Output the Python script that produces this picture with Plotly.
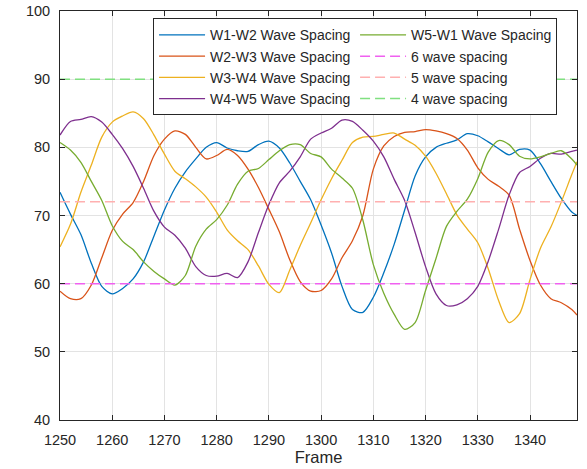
import plotly.graph_objects as go

frames = list(range(1250, 1349, 2)) + [1349]

w1_w2 = [73.4, 70.2, 67.2, 63.0, 59.6, 58.5, 59.3, 60.7, 63.2, 67.0,
         70.8, 74.0, 76.4, 78.3, 80.0, 80.7, 79.9, 79.5, 79.4, 80.4,
         80.9, 79.9, 77.7, 75.0, 72.3, 68.6, 64.5, 59.6, 56.2, 55.8,
         58.0, 61.6, 65.8, 70.8, 75.8, 78.6, 80.0, 80.6, 81.1, 82.0,
         81.7, 80.8, 79.8, 78.9, 79.7, 79.6, 77.6, 75.0, 72.5, 70.5, 70.0]

w2_w3 = [58.9, 57.8, 57.8, 59.8, 63.8, 67.8, 70.2, 71.9, 75.0, 78.8,
         81.2, 82.4, 81.9, 80.0, 78.3, 78.8, 79.7, 78.8, 76.8, 74.1,
         70.9, 67.6, 63.5, 60.3, 58.9, 59.0, 60.7, 63.8, 66.3, 70.0,
         76.8, 80.2, 81.6, 82.2, 82.3, 82.6, 82.4, 82.0, 81.3, 79.6,
         77.0, 75.3, 74.3, 73.0, 68.0, 63.4, 59.8, 57.8, 57.2, 56.2, 55.4]

w3_w4 = [65.4, 68.7, 73.4, 77.4, 81.5, 83.7, 84.6, 85.2, 84.2, 81.8,
         79.0, 76.5, 75.4, 74.2, 72.7, 70.5, 67.9, 66.3, 65.0, 62.6,
         59.9, 58.7, 62.0, 65.6, 68.9, 72.3, 75.4, 78.1, 80.7, 81.5,
         81.6, 81.9, 82.1, 81.2, 80.3, 78.7, 76.2, 73.2, 70.1, 68.0,
         66.0, 62.2, 57.5, 54.3, 55.6, 60.6, 65.2, 68.3, 72.0, 76.0, 77.9]

w4_w5 = [81.8, 83.8, 84.1, 84.5, 83.7, 81.9, 79.8, 77.2, 74.0, 70.6,
         68.3, 67.1, 65.2, 62.5, 61.2, 61.1, 61.5, 60.9, 63.2, 67.5,
         71.6, 74.8, 76.5, 78.6, 81.2, 82.1, 82.8, 84.0, 83.8, 82.5,
         80.9, 78.6, 75.3, 72.2, 67.5, 62.5, 58.5, 56.8, 56.9, 57.8,
         59.6, 63.3, 68.0, 73.0, 76.3, 77.2, 78.4, 79.1, 79.0, 79.4, 79.6]

w5_w1 = [80.7, 79.6, 77.8, 75.0, 72.2, 68.5, 66.2, 65.0, 63.2, 61.8,
         60.7, 59.8, 61.2, 65.5, 68.0, 69.4, 71.5, 74.6, 76.5, 76.9,
         78.2, 79.5, 80.4, 80.4, 79.1, 78.6, 76.8, 75.5, 74.0, 69.3,
         62.8, 58.6, 55.5, 53.3, 54.3, 59.0, 63.7, 68.4, 70.6, 72.4,
         75.4, 79.3, 81.0, 80.4, 78.7, 78.3, 78.6, 79.1, 79.5, 78.3, 77.4]

series_names = ["W1-W2 Wave Spacing", "W2-W3 Wave Spacing", "W3-W4 Wave Spacing",
                "W4-W5 Wave Spacing", "W5-W1 Wave Spacing"]
series_values = [w1_w2, w2_w3, w3_w4, w4_w5, w5_w1]
series_colors = ["#0072BD", "#D95319", "#EDB120", "#7E2F8E", "#77AC30"]

spacing_names = ["6 wave spacing", "5 wave spacing", "4 wave spacing"]
spacing_levels = [60, 72, 90]
spacing_colors = ["#F060F0", "#FFB0B0", "#80E080"]

x_range = [1250, 1349]
x_ticks = [1250, 1260, 1270, 1280, 1290, 1300, 1310, 1320, 1330, 1340]
y_ticks = [40, 50, 60, 70, 80, 90, 100]

legend_ranks = [1, 3, 5, 7, 2, 4, 6, 8]

fig = go.Figure()
for i, (name, vals, col) in enumerate(zip(series_names, series_values, series_colors)):
    fig.add_trace(go.Scatter(
        x=frames, y=vals, name=name, mode="lines",
        line=dict(color=col, width=1.3, shape="spline", smoothing=0.8),
        legendrank=legend_ranks[i]))
for j, (name, lvl, col) in enumerate(zip(spacing_names, spacing_levels, spacing_colors)):
    fig.add_trace(go.Scatter(
        x=x_range, y=[lvl, lvl], name=name, mode="lines",
        line=dict(color=col, width=1.5, dash="10px,5px"),
        legendrank=legend_ranks[5 + j]))

axis_common = dict(
    showline=True, linecolor="#262626", linewidth=1, mirror="ticks",
    ticks="inside", ticklen=5, tickcolor="#262626",
    showgrid=True, gridcolor="#E3E3E3", gridwidth=1, zeroline=False,
    tickfont=dict(size=14.5, color="#262626"), automargin=False,
)

fig.update_xaxes(range=x_range, tickvals=x_ticks, ticklabelstandoff=7,
                 title=dict(text="Frame", font=dict(size=16.5, color="#262626"), standoff=4),
                 **axis_common)
fig.update_yaxes(range=[40, 100], tickvals=y_ticks, ticklabelstandoff=6,
                 **axis_common)

fig.update_layout(
    width=587, height=469,
    margin=dict(l=60, r=10, t=11, b=49),
    paper_bgcolor="white", plot_bgcolor="white",
    font=dict(family="Liberation Sans, Arial, sans-serif", color="#262626"),
    showlegend=True,
    legend=dict(
        orientation="h", x=0.18, y=0.982, xanchor="left", yanchor="top",
        bgcolor="white", bordercolor="#262626", borderwidth=1,
        font=dict(size=14, color="#262626"),
        itemwidth=46, entrywidth=140, tracegroupgap=0,
    ),
)

fig.write_html("out.html")
